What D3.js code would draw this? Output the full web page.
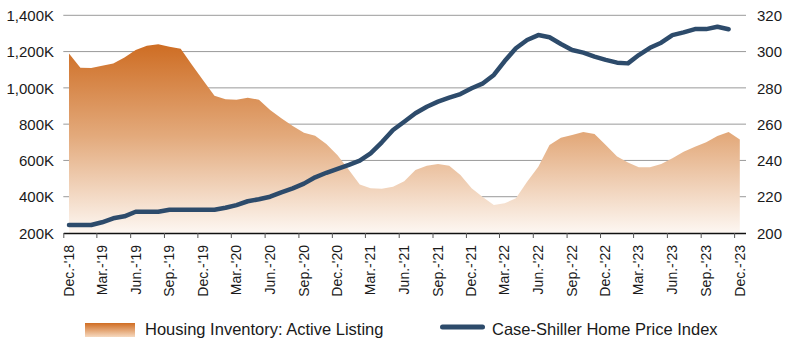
<!DOCTYPE html>
<html><head><meta charset="utf-8">
<script src="https://cdn.jsdelivr.net/npm/d3@7"></script>
<style>
body{margin:0;background:#fff}
svg{display:block}
text{font-family:"Liberation Sans",Arial,Helvetica,sans-serif;fill:#1a1a1a}
</style>
</head><body>
<svg id="chart" width="800" height="341"></svg>
<script>
// Housing inventory (active listings, thousands), monthly Dec-18 .. Dec-23
const inventoryK = [1190,1111,1110,1122,1135,1168,1209,1232,1240,1227,1216,1128,1042,957,937,935,946,935,878,832,790,753,736,690,628,547,468,446,444,455,485,547,571,580,571,520,446,397,354,364,391,483,565,685,725,740,757,746,685,621,588,562,562,580,612,648,676,700,735,757,716];
// Case-Shiller Home Price Index, monthly Dec-18 .. Nov-23
const hpi = [204.4,204.4,204.4,205.9,208.1,209.2,211.7,211.7,211.7,212.8,212.8,212.8,212.8,212.8,213.9,215.4,217.5,218.6,220,222.4,224.6,227.2,230.7,233.2,235.4,237.6,239.9,243.9,250,256.8,261.3,266,269.6,272.4,274.6,276.6,279.8,282.5,287.1,294.8,301.8,306.4,309.1,307.9,304.2,300.9,299.4,297.2,295.4,293.9,293.5,298.1,302.1,304.9,309.1,310.6,312.4,312.4,313.7,312.3];
const leftTicks = [200,400,600,800,1000,1200,1400];
const rightTicks = [200,220,240,260,280,300,320];
const xTickLabels = ["Dec.-'18","Mar.-'19","Jun.-'19","Sep.-'19","Dec.-'19","Mar.-'20","Jun.-'20","Sep.-'20","Dec.-'20","Mar.-'21","Jun.-'21","Sep.-'21","Dec.-'21","Mar.-'22","Jun.-'22","Sep.-'22","Dec.-'22","Mar.-'23","Jun.-'23","Sep.-'23","Dec.-'23"];
const seriesNames = ["Housing Inventory: Active Listing","Case-Shiller Home Price Index"];

(function () {
const startDate = new Date(2018, 11, 1);
const endDate = new Date(2024, 0, 1);
const monthStarts = d3.timeMonth.range(startDate, endDate);
const midMonth = d => new Date((+d + +d3.timeMonth.offset(d, 1)) / 2);
const quarterStarts = d3.timeMonth.range(startDate, endDate, 3).slice(0, xTickLabels.length);

const svg = d3.select("#chart");
const mLeft = 63.3, mRight = 745.5, mTop = 15.3, mBottom = 233;

const x = d3.scaleTime().domain([startDate, endDate]).range([mLeft, mRight]);
const yL = d3.scaleLinear().domain([200, 1400]).range([mBottom, mTop]);
const yR = d3.scaleLinear().domain([200, 320]).range([mBottom, mTop]);

// gradient defs
const defs = svg.append("defs");
const g1 = defs.append("linearGradient").attr("id", "areaGrad")
  .attr("gradientUnits", "userSpaceOnUse").attr("x1", 0).attr("x2", 0).attr("y1", 40).attr("y2", mBottom);
g1.append("stop").attr("offset", 0).attr("stop-color", "#cd6a1f");
g1.append("stop").attr("offset", 0.5).attr("stop-color", "#e3aa7c");
g1.append("stop").attr("offset", 1).attr("stop-color", "#fdf7f2");
const g2 = defs.append("linearGradient").attr("id", "legGrad").attr("x1", 0).attr("x2", 0).attr("y1", 0).attr("y2", 1);
g2.append("stop").attr("offset", 0).attr("stop-color", "#d06d22");
g2.append("stop").attr("offset", 1).attr("stop-color", "#f6d9bf");

// gridlines
svg.append("g").selectAll("line").data(leftTicks.filter(v => v > 200)).join("line")
  .attr("x1", mLeft).attr("x2", mRight + 0.5)
  .attr("y1", d => yL(d)).attr("y2", d => yL(d))
  .attr("stroke", "#9a9a9a").attr("stroke-width", 1);

// area
const invData = inventoryK.map((v, i) => ({ d: midMonth(monthStarts[i]), v }));
svg.append("path").datum(invData)
  .attr("fill", "url(#areaGrad)")
  .attr("d", d3.area().x(p => x(p.d)).y0(yL(200)).y1(p => yL(p.v)));

// line
const hpiData = hpi.map((v, i) => ({ d: midMonth(monthStarts[i]), v }));
svg.append("path").datum(hpiData)
  .attr("fill", "none").attr("stroke", "#2d4b6b").attr("stroke-width", 4.5)
  .attr("stroke-linejoin", "round").attr("stroke-linecap", "round")
  .attr("d", d3.line().x(p => x(p.d)).y(p => yR(p.v)));

// left axis labels
const la = svg.append("g").attr("transform", "translate(54,0)")
  .call(d3.axisLeft(yL).tickValues(leftTicks).tickSize(0).tickPadding(0)
    .tickFormat(v => d3.format(",")(v) + "K"));
la.select(".domain").remove();
la.selectAll("text").attr("font-size", 15).attr("dy", "0.35em");
la.attr("font-family", null).attr("font-size", null);

// right axis labels
const ra = svg.append("g").attr("transform", "translate(757,0)")
  .call(d3.axisRight(yR).tickValues(rightTicks).tickSize(0).tickPadding(0));
ra.select(".domain").remove();
ra.selectAll("text").attr("font-size", 15).attr("dy", "0.35em");
ra.attr("font-family", null).attr("font-size", null);

// bottom axis
const ba = svg.append("g").attr("transform", `translate(0,${mBottom})`)
  .call(d3.axisBottom(x).tickValues(quarterStarts).tickSize(5).tickSizeOuter(0)
    .tickFormat((d, i) => xTickLabels[i]));
ba.attr("font-family", null).attr("font-size", null);
ba.select(".domain").attr("stroke", "#111").attr("stroke-width", 1.6);
ba.selectAll(".tick line").attr("stroke", "#555");
ba.selectAll("text")
  .attr("font-size", 14)
  .attr("transform", "rotate(-90)")
  .attr("text-anchor", "end")
  .attr("x", -12).attr("y", 5).attr("dy", "0.35em");

// legend
const lg = svg.append("g");
lg.append("rect").attr("x", 85).attr("y", 323).attr("width", 50).attr("height", 14).attr("fill", "url(#legGrad)");
lg.append("text").attr("x", 145).attr("y", 334.5).attr("font-size", 16.5).text(seriesNames[0]);
lg.append("line").attr("x1", 442.5).attr("x2", 482.5).attr("y1", 327).attr("y2", 327)
  .attr("stroke", "#2d4b6b").attr("stroke-width", 5).attr("stroke-linecap", "round");
lg.append("text").attr("x", 492).attr("y", 334.5).attr("font-size", 16.5).text(seriesNames[1]);
})();
</script>
</body></html>
